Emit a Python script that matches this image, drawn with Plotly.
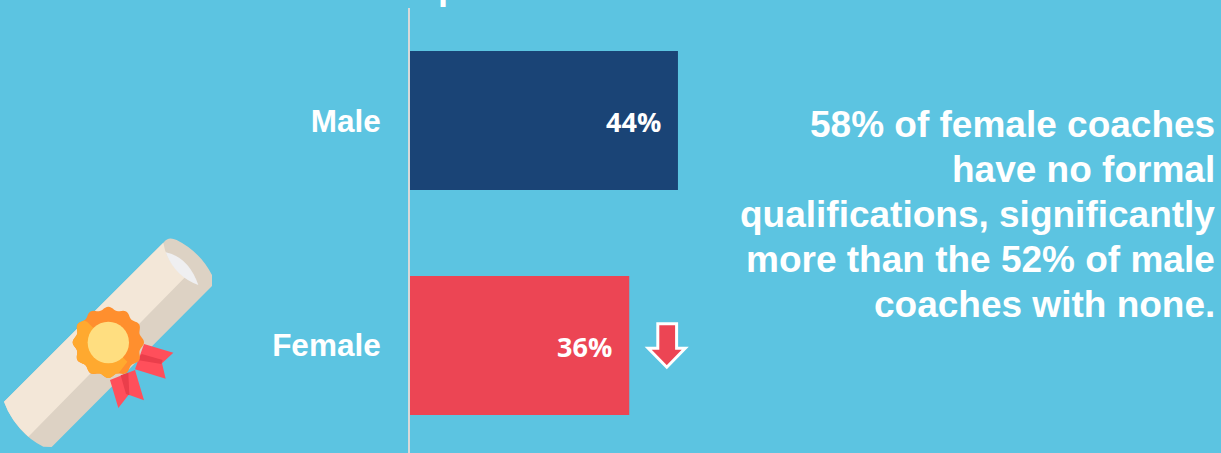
import math
import plotly.graph_objects as go

categories = ["Male", "Female"]
values = [44, 36]
value_labels = ["44%", "36%"]
bar_colors = ["#1A4476", "#EC4554"]
note_lines = [
    "58% of female coaches",
    "have no formal",
    "qualifications, significantly",
    "more than the 52% of male",
    "coaches with none.",
]

W, H = 1221, 453
BG = "#5CC4E1"
PX_PER_UNIT = 6.09
AXIS_LEFT = 410


def px(x, y):
    return x / W, 1 - y / H


def poly(points, fill, line=None, width=0):
    d = "M " + " L ".join("%.5f %.5f" % px(*p) for p in points) + " Z"
    return dict(type="path", xref="paper", yref="paper", path=d, fillcolor=fill,
                line=dict(color=line or "rgba(0,0,0,0)", width=width), layer="above")


def curve(cmds, fill):
    # cmds: (letter, x1, y1, x2, y2, ...) in icon coordinates
    parts = []
    for c in cmds:
        coords = []
        for i in range(1, len(c), 2):
            a, b = icon(c[i], c[i + 1])
            coords.append("%.5f %.5f" % px(a, b))
        parts.append(c[0] + " " + " ".join(coords))
    return dict(type="path", xref="paper", yref="paper", path=" ".join(parts) + " Z",
                fillcolor=fill, line=dict(color="rgba(0,0,0,0)", width=0), layer="above")


def icon(x, y):
    # The diploma icon is laid out on a 3x grid with its origin at (0, 220)
    return x / 3, 220 + y / 3


def icon_poly(points, fill):
    return poly([icon(*p) for p in points], fill)


def seal_point(angle):
    r = 102 + 5 * math.cos(12 * angle)
    return 325 + r * math.cos(angle), 367 + r * math.sin(angle)


seal_outline = [seal_point(2 * math.pi * i / 144) for i in range(144)]
seal_light = [seal_point(math.radians(a)) for a in range(222, 70, -3)]
seal_light += [(382, 425), (262, 306)]

shapes = [
    # rolled paper
    curve([("M", 492, 66), ("Q", 505, 48, 530, 60), ("Q", 600, 95, 636, 165), ("L", 636, 198),
           ("L", 155, 681), ("L", 130, 680), ("Q", 50, 640, 12, 545)], "#DDD2C4"),
    curve([("M", 12, 545), ("L", 490, 68), ("Q", 500, 130, 555, 172), ("L", 85, 650),
           ("Q", 30, 600, 12, 545)], "#F3E7D8"),
    curve([("M", 497, 97), ("Q", 565, 110, 595, 195), ("Q", 525, 170, 497, 97)], "#EFEFF1"),
    # ribbon tails
    icon_poly([(432, 372), (520, 398), (486, 430), (497, 476), (405, 448)], "#FF4F5B"),
    icon_poly([(425, 402), (488, 420), (484, 432), (412, 420)], "#EA3E4B"),
    icon_poly([(330, 480), (355, 564), (386, 524), (432, 541), (405, 450)], "#FF4F5B"),
    icon_poly([(362, 466), (378, 522), (388, 526), (385, 458)], "#EA3E4B"),
    # rosette
    icon_poly(seal_outline, "#FF8F2E"),
    icon_poly(seal_light, "#FFA92F"),
    dict(type="circle", xref="paper", yref="paper",
         x0=icon(263, 305)[0] / W, x1=icon(387, 305)[0] / W,
         y0=1 - icon(0, 305)[1] / H, y1=1 - icon(0, 430)[1] / H,
         fillcolor="#FFDE80", line=dict(color="rgba(0,0,0,0)", width=0), layer="above"),
    # down arrow beside the lower bar
    poly([(657.8, 323.7), (676.6, 323.7), (676.6, 348.3), (685.2, 348.3),
          (666.8, 367.2), (648.2, 348.3), (657.8, 348.3)], "#EC4554", "#FFFFFF", 3),
]

annotations = []
for cat, val, lab in zip(categories, values, value_labels):
    annotations.append(dict(x=val, y=cat, xref="x", yref="y", text=lab, showarrow=False,
                            xanchor="right", yanchor="middle", xshift=-15, yshift=-1,
                            font=dict(family="Open Sans", size=27, color="white", weight="bold")))

for i, line in enumerate(note_lines):
    annotations.append(dict(x=1217 / W, y=1 - (124.5 + 45 * i) / H, xref="paper", yref="paper",
                            text=line, showarrow=False, xanchor="right", yanchor="middle",
                            font=dict(family="Liberation Sans", size=37, color="white", weight="bold")))

# Descender of the heading running off the top edge
annotations.append(dict(x=449 / W, y=1, xref="paper", yref="paper", text="p", showarrow=False,
                        xanchor="center", yanchor="bottom", yshift=-9,
                        font=dict(family="Liberation Sans", size=36, color="white", weight="bold")))

fig = go.Figure(go.Bar(
    x=values, y=categories, orientation="h",
    marker=dict(color=bar_colors, line=dict(width=0)),
    hoverinfo="skip",
))

fig.update_layout(
    width=W, height=H,
    margin=dict(l=0, r=0, t=0, b=0),
    paper_bgcolor=BG, plot_bgcolor=BG,
    bargap=0.382,
    showlegend=False,
    shapes=shapes,
    annotations=annotations,
    xaxis=dict(domain=[AXIS_LEFT / W, 1], range=[0, (W - AXIS_LEFT) / PX_PER_UNIT],
               visible=False, showgrid=False, zeroline=False),
    yaxis=dict(domain=[0, 445 / H], range=[1.478, -0.5], type="category",
               categoryorder="array", categoryarray=categories,
               showgrid=False, zeroline=False, showline=True,
               linecolor="#D9D9D9", linewidth=2,
               ticks="outside", ticklen=21, tickcolor="rgba(0,0,0,0)",
               tickfont=dict(family="Liberation Sans", size=31.5, color="white", weight="bold")),
)

fig.write_html("out.html", config=dict(displayModeBar=False))
